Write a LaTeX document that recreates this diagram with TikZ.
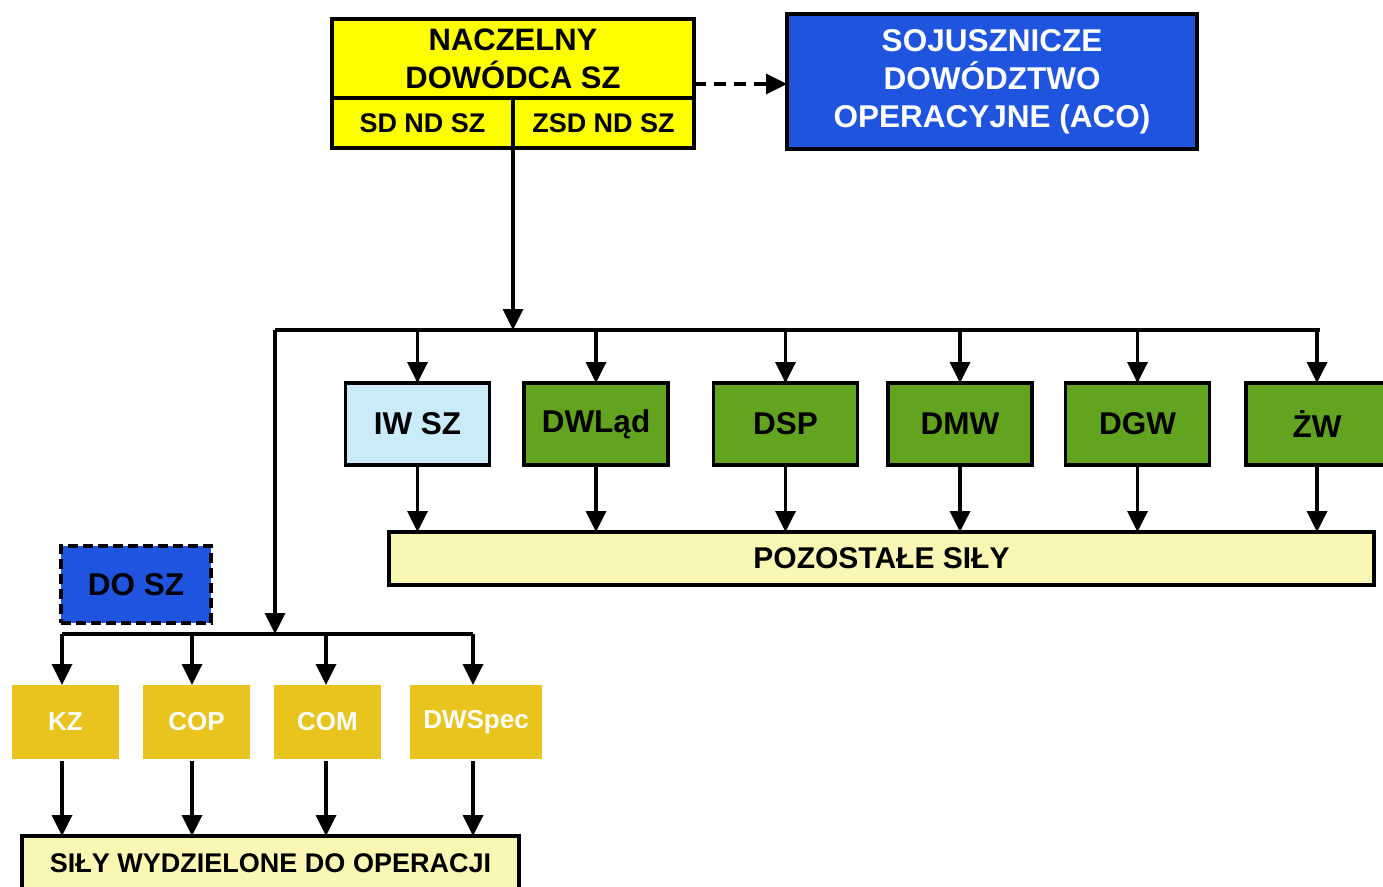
\documentclass[tikz,border=0pt]{standalone}
\usepackage{fontspec}
\setmainfont{Liberation Sans}
\usetikzlibrary{arrows.meta,calc}

\definecolor{ndyellow}{RGB}{255,255,0}
\definecolor{acoblue}{RGB}{30,84,222}
\definecolor{iwblue}{RGB}{202,236,248}
\definecolor{dgreen}{RGB}{98,164,32}
\definecolor{paleyellow}{RGB}{250,247,180}
\definecolor{goldbox}{RGB}{234,196,30}

\begin{document}
\begin{tikzpicture}[x=1pt,y=-1pt,
  txt/.style={font=\fontsize{31.5}{38}\selectfont\bfseries},
  box/.style={draw=black, line width=3.2pt, inner sep=0pt, outer sep=0pt, align=center, text=black, txt},
  unit/.style={box, minimum width=144pt, minimum height=82pt},
  gunit/.style={draw=none, fill=goldbox, inner sep=0pt, outer sep=0pt, text=white, minimum width=107pt,
    minimum height=74pt, font=\fontsize{26}{30}\selectfont\bfseries},
  wire/.style={line width=3.5pt},
  conn/.style={wire, -{Triangle[length=21pt,width=20pt]}},
  dconn/.style={conn, dash pattern=on 12pt off 8pt}]

\useasboundingbox (0,0) rectangle (1383,886);

% command level
\node[box, fill=ndyellow, minimum width=362pt, minimum height=79pt,
  font=\fontsize{31}{38}\selectfont\bfseries] (ndsz) at (513,58.5) {NACZELNY\\DOWÓDCA SZ};
\node[box, fill=ndyellow, minimum width=181pt, minimum height=50pt,
  font=\fontsize{27}{32}\selectfont\bfseries] (sd) at (422.5,123) {SD ND SZ};
\node[box, fill=ndyellow, minimum width=181pt, minimum height=50pt,
  font=\fontsize{27}{32}\selectfont\bfseries] (zsd) at (603.5,123) {ZSD ND SZ};
\node[box, fill=acoblue, text=white, minimum width=410pt, minimum height=135pt] (aco) at (992,81.5) {SOJUSZNICZE\\DOWÓDZTWO\\OPERACYJNE (ACO)};

\coordinate (dstart) at ($(ndsz.south east)+(0,-14)$);
\draw[dconn] (dstart) -- (aco.west |- dstart);

% distribution bus
\coordinate (bus) at (513,330);
\coordinate (busL) at (275,330);
\coordinate (busR) at (1320,330);
\draw[conn] (sd.south -| bus) -- (bus);
\draw[wire] (busL) -- (busR);

% branches of the armed forces
\node[unit, fill=iwblue] (iw) at (417.5,424) {IW SZ};
\node[unit, fill=dgreen] (dwl) at (596,424) {DWLąd};
\node[unit, fill=dgreen] (dsp) at (785.5,424) {DSP};
\node[unit, fill=dgreen] (dmw) at (960,424) {DMW};
\node[unit, fill=dgreen] (dgw) at (1137.5,424) {DGW};
\node[unit, fill=dgreen, minimum width=142pt] (zw) at (1317,424) {ŻW};

\node[box, fill=paleyellow, minimum width=985pt, minimum height=53pt,
  font=\fontsize{30}{36}\selectfont\bfseries] (poz) at (881.5,558.5) {POZOSTAŁE SIŁY};

\foreach \n in {iw,dwl,dsp,dmw,dgw,zw}{
  \draw[conn] (\n.north |- bus) -- (\n.north);
  \draw[conn] (\n.south) -- (\n.south |- poz.north);
}

% operational forces
\node[box, fill=acoblue, dash pattern=on 10pt off 5pt, minimum width=150pt, minimum height=77pt] (dosz) at (136,584.5) {DO SZ};

\coordinate (bus2) at (275,634);
\coordinate (bus2L) at (62,634);
\coordinate (bus2R) at (473,634);
\draw[conn] (busL) -- (bus2);
\draw[wire] (bus2L) -- (bus2R);

\node[gunit] (kz) at (65.5,722) {KZ};
\node[gunit] (cop) at (196.5,722) {COP};
\node[gunit] (com) at (327.5,722) {COM};
\node[gunit, minimum width=132pt] (dws) at (476,722) {DWSpec};

\node[box, fill=paleyellow, minimum width=497pt, minimum height=54pt,
  font=\fontsize{27}{32}\selectfont\bfseries] (swo) at (270.5,863) {SIŁY WYDZIELONE DO OPERACJI};

\foreach \n/\x in {kz/62,cop/192,com/326,dws/473}{
  \draw[conn] (\x,634) -- (\n.north -| \x,0);
  \draw[conn] ([yshift=-2pt]\n.south -| \x,0) -- (swo.north -| \x,0);
}
\end{tikzpicture}
\end{document}
